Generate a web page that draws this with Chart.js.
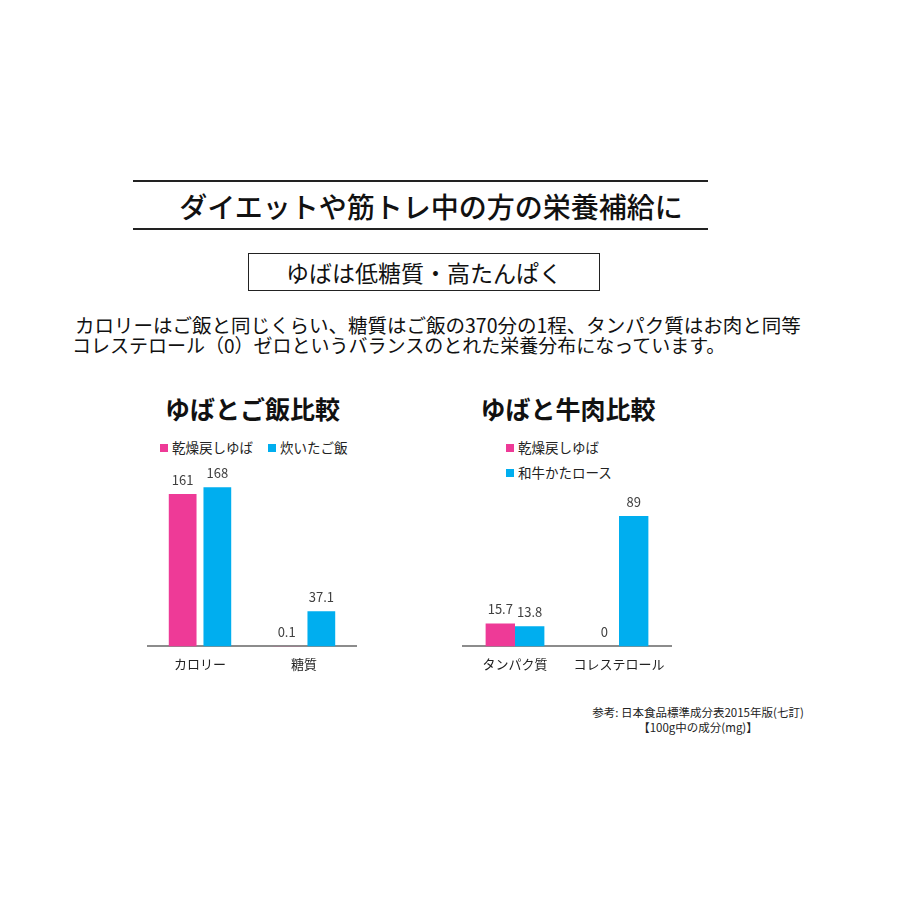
<!DOCTYPE html>
<html lang="ja">
<head>
<meta charset="utf-8">
<script src="https://cdn.jsdelivr.net/npm/chart.js@4"></script>
<style>
  body { margin: 0; background: #fff; font-family: "Noto Sans CJK JP", sans-serif; color: #111; }
  #page { position: relative; width: 900px; height: 900px; overflow: hidden; }
  .abs { position: absolute; white-space: nowrap; }
  .hline { position: absolute; left: 133px; width: 575px; height: 2px; background: #222; }
  canvas { position: absolute; }
  .leg { position: absolute; font-size: 13.5px; color: #222; white-space: nowrap; line-height: 16px; }
  .leg i { display: inline-block; width: 8px; height: 8px; margin-right: 4px; vertical-align: 1px; }
</style>
</head>
<body>
<div id="page">
  <div class="hline" style="top:180px"></div>
  <div class="abs" style="left:0;width:862px;top:186px;text-align:center;font-size:28px;font-weight:500;line-height:40px">ダイエットや筋トレ中の方の栄養補給に</div>
  <div class="hline" style="top:228px"></div>

  <div class="abs" style="left:248px;top:253px;width:350px;height:36px;border:1.5px solid #222;text-align:center;font-size:23px;line-height:36px">ゆばは低糖質・高たんぱく</div>

  <div class="abs" style="left:75px;top:316px;font-size:19.5px;line-height:18px"> カロリーはご飯と同じくらい、糖質はご飯の370分の1程、タンパク質はお肉と同等</div>
  <div class="abs" style="left:72px;top:336px;font-size:19px;line-height:18px">コレステロール（0）ゼロというバランスのとれた栄養分布になっています。</div>

  <div class="abs" style="left:140px;top:393px;width:225px;text-align:center;font-size:25px;font-weight:bold;line-height:30px">ゆばとご飯比較</div>
  <div class="abs" style="left:455px;top:393px;width:226px;text-align:center;font-size:25px;font-weight:bold;line-height:30px">ゆばと牛肉比較</div>

  <div id="leg1" class="leg" style="left:160px;top:439px"></div>
  <div id="leg2" class="leg" style="left:506px;top:439px"></div>

  <canvas id="riceChart" style="left:140px;top:450px" width="230" height="230"></canvas>
  <canvas id="beefChart" style="left:455px;top:450px" width="230" height="230"></canvas>

  <div class="abs" style="left:578px;top:706px;width:240px;text-align:center;font-size:11.5px;line-height:13px;color:#222">参考: 日本食品標準成分表2015年版(七訂)</div>
  <div class="abs" style="left:578px;top:721px;width:240px;text-align:center;font-size:11.5px;line-height:13px;color:#222">【100g中の成分(mg)】</div>
</div>

<script>
const riceCategories = ['カロリー', '糖質']
const riceSeries = ['乾燥戻しゆば', '炊いたご飯']
const riceYuba = [161, 0.1]
const riceRice = [168, 37.1]

const beefCategories = ['タンパク質', 'コレステロール']
const beefSeries = ['乾燥戻しゆば', '和牛かたロース']
const beefYuba = [15.7, 0]
const beefBeef = [13.8, 89]

const pink = '#EE3A97'
const blue = '#00AEEF'

// value labels above each bar
const barLabels = {
  id: 'barLabels',
  afterDatasetsDraw(chart) {
    const ctx = chart.ctx
    ctx.save()
    ctx.font = '13px "Noto Sans CJK JP", sans-serif'
    ctx.fillStyle = '#404040'
    ctx.textAlign = 'center'
    ctx.textBaseline = 'middle'
    chart.data.datasets.forEach((ds, i) => {
      chart.getDatasetMeta(i).data.forEach((bar, j) => {
        ctx.fillText(String(ds.data[j]), bar.x, bar.y - 14)
      })
    })
    ctx.restore()
  }
}

function makeLegend(id, names, colors, vertical) {
  const el = document.getElementById(id)
  names.forEach((name, i) => {
    const item = document.createElement('div')
    item.style.display = vertical ? 'block' : 'inline-block'
    item.style.marginRight = vertical ? '0' : '15px'
    item.style.marginBottom = vertical ? '9px' : '0'
    item.innerHTML = '<i style="background:' + colors[i] + '"></i>' + name
    el.appendChild(item)
  })
}

function makeChart(id, labels, names, a, b, max, padTop, catPct, barPct) {
  return new Chart(id, {
    type: 'bar',
    data: {
      labels: labels,
      datasets: [
        { label: names[0], data: a, backgroundColor: pink },
        { label: names[1], data: b, backgroundColor: blue }
      ]
    },
    options: {
      responsive: false,
      animation: false,
      categoryPercentage: catPct,
      barPercentage: barPct,
      layout: { padding: { top: padTop, left: 8, right: 14, bottom: 6 } },
      plugins: { legend: { display: false }, title: { display: false }, tooltip: { enabled: false } },
      scales: {
        y: { display: false, min: 0, max: max },
        x: {
          grid: { display: false },
          border: { color: '#8c8c8c', width: 2 },
          ticks: { color: '#222', padding: 2, font: { size: 13, family: '"Noto Sans CJK JP", sans-serif' } }
        }
      }
    },
    plugins: [barLabels]
  })
}

makeLegend('leg1', riceSeries, [pink, blue], false)
makeLegend('leg2', beefSeries, [pink, blue], true)
makeChart('riceChart', riceCategories, riceSeries, riceYuba, riceRice, 200, 7, 0.667, 0.8)
makeChart('beefChart', beefCategories, beefSeries, beefYuba, beefBeef, 100, 50, 0.565, 1.0)
</script>
</body>
</html>
